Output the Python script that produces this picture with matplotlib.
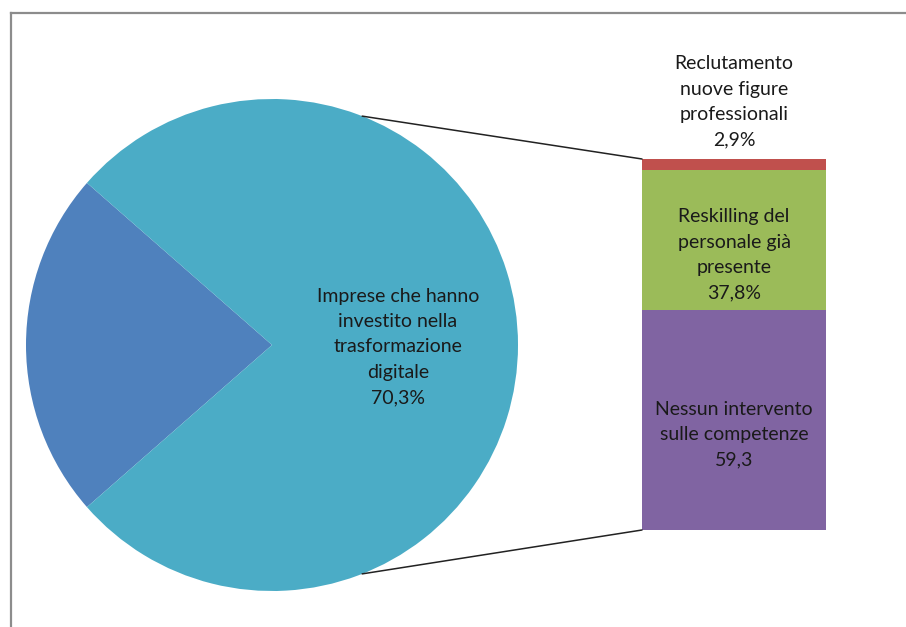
import numpy as np
import matplotlib.pyplot as plt
from matplotlib.patches import ConnectionPatch
from matplotlib.lines import Line2D

# pie: first slice + "other" slice which is broken down in the bar
pie_label = "Imprese che hanno\ninvestito nella\ntrasformazione\ndigitale\n70,3%"
other_value = 29.7

bar_labels = ["Nessun intervento\nsulle competenze\n59,3",
              "Reskilling del\npersonale già\npresente\n37,8%",
              "Reclutamento\nnuove figure\nprofessionali\n2,9%"]
bar_values = [59.3, 37.8, 2.9]

BLUE = "#4F81BD"
TEAL = "#4BACC6"
BAR_COLORS = ["#8064A2", "#9BBB59", "#C0504D"]

plt.rcParams['font.family'] = ['Lato', 'DejaVu Sans']
FS = 14
LS = 1.6

W, H = 906, 627
fig = plt.figure(figsize=(W / 100, H / 100), dpi=100)

# ------------------------------
# pie
# ------------------------------
cx, cy, R = 272, 345, 246
half = 252
ax_pie = fig.add_axes([(cx - half) / W, (H - cy - half) / H, 2 * half / W, 2 * half / H])

total = other_value + sum(bar_values)
other_angle = 360 * other_value / total
ax_pie.pie([other_value, sum(bar_values)], colors=[BLUE, TEAL], radius=R,
           startangle=180 - other_angle / 2, counterclock=True,
           wedgeprops=dict(linewidth=0), frame=True)
ax_pie.set_xlim(-half, half)
ax_pie.set_ylim(-half, half)
ax_pie.axis("off")
ax_pie.text(126, -2, pie_label, ha="center", va="center", fontsize=FS,
            color="#1a1a1a", linespacing=LS)

# ------------------------------
# bar
# ------------------------------
bx0, bx1, by0, by1 = 642, 826, 530, 159
ax_bar = fig.add_axes([bx0 / W, (H - by0) / H, (bx1 - bx0) / W, (by0 - by1) / H])
bottom = 0
for val, col in zip(bar_values, BAR_COLORS):
    ax_bar.bar(0, val, bottom=bottom, width=1, color=col, linewidth=0)
    bottom += val
ax_bar.set_xlim(-0.5, 0.5)
ax_bar.set_ylim(0, sum(bar_values))
ax_bar.axis("off")

bottom = 0
for i, (val, lab) in enumerate(zip(bar_values, bar_labels)):
    if i < 2:
        ax_bar.text(0, bottom + val / 2 - 4, lab, ha="center", va="center",
                    fontsize=FS, color="#1a1a1a", linespacing=LS)
    else:
        ax_bar.text(0, bottom + val + 2.8, lab, ha="center", va="bottom",
                    fontsize=FS, color="#1a1a1a", linespacing=LS,
                    clip_on=False)
    bottom += val

# ------------------------------
# connector lines
# ------------------------------
theta = np.deg2rad(68.5)
for sgn, ybar in [(1, sum(bar_values)), (-1, 0)]:
    p = (R * np.cos(theta), sgn * R * np.sin(theta))
    con = ConnectionPatch(xyA=p, coordsA=ax_pie.transData,
                          xyB=(-0.5, ybar), coordsB=ax_bar.transData,
                          color="#222222", linewidth=1.1)
    fig.add_artist(con)

# frame (left and top edges visible)
fig.add_artist(Line2D([10.5 / W, 10.5 / W], [0, 1 - 12.5 / H], color="#8C8C8C", linewidth=1.6))
fig.add_artist(Line2D([10.5 / W, 1], [1 - 12.5 / H, 1 - 12.5 / H], color="#8C8C8C", linewidth=1.6))

fig.savefig("out.png", dpi=100, facecolor="white")
